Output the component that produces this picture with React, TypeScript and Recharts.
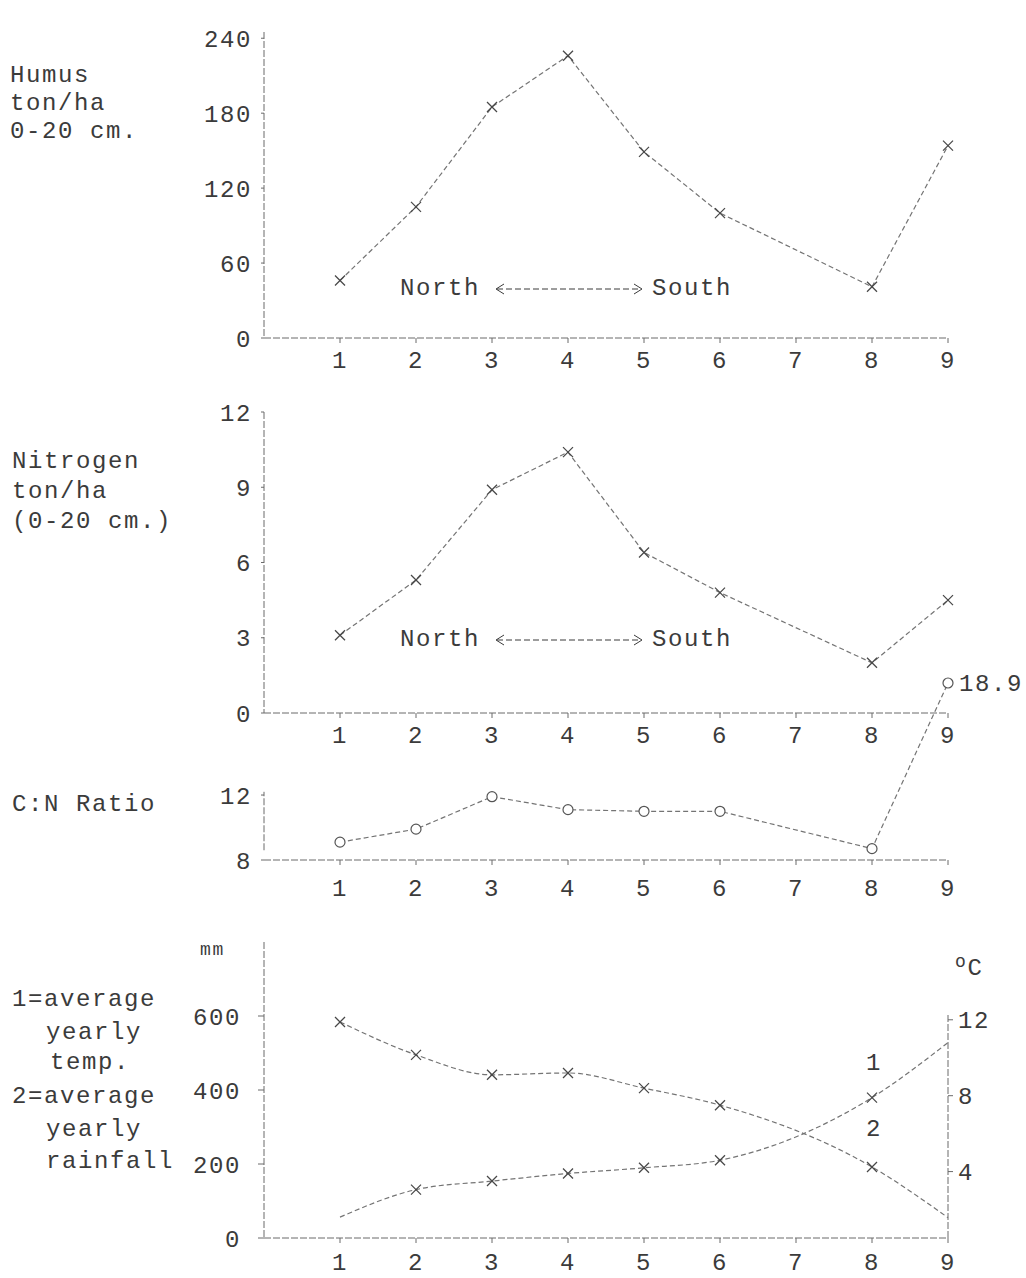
import { LineChart, Line, XAxis, YAxis, ReferenceLine } from "recharts"

// stations along the transect, north -> south (no samples at 7)
const stations = [1, 2, 3, 4, 5, 6, 8, 9]
const stationTicks = [1, 2, 3, 4, 5, 6, 7, 8, 9]

const humus = [46, 105, 185, 226, 149, 100, 41, 154]
const nitrogen = [3.1, 5.3, 8.9, 10.4, 6.4, 4.8, 2.0, 4.5]
const cnRatio = [9.1, 9.9, 11.9, 11.1, 11.0, 11.0, 8.7, 18.9]
const rainfall = [584, 495, 441, 446, 405, 359, 192, 55]
const temperature = [1.6, 3.05, 3.5, 3.9, 4.2, 4.6, 7.9, 10.8]

const humusTicks = [0, 60, 120, 180, 240]
const nitrogenTicks = [0, 3, 6, 9, 12]
const cnTicks = [8, 12]
const rainTicks = [0, 200, 400, 600]
const tempTicks = [4, 8, 12]

const rows = stations.map((s, i) => ({
  station: s,
  humus: humus[i],
  nitrogen: nitrogen[i],
  cn: cnRatio[i],
  rain: rainfall[i],
  temp: temperature[i],
}))

const INK = "#3b3b3b"
const AXIS = "#6a6a6a"
const SERIES = "#747474"
const FONT = "'Liberation Mono', 'DejaVu Sans Mono', monospace"
const X_AXIS_H = 56

const tick = { fontSize: 24, fill: INK, fontFamily: FONT }
const axisLine = { stroke: AXIS, strokeDasharray: "7 2" }

function Cross(props: any) {
  const { cx, cy, payload, skip } = props
  if (cx == null || cy == null) return null
  if (skip && skip.includes(payload.station)) return null
  const r = 5
  return (
    <g key={`x-${payload.station}`} stroke="#474747" strokeWidth={1.3}>
      <line x1={cx - r} y1={cy - r} x2={cx + r} y2={cy + r} />
      <line x1={cx - r} y1={cy + r} x2={cx + r} y2={cy - r} />
    </g>
  )
}

function Ring(props: any) {
  const { cx, cy, payload } = props
  if (cx == null || cy == null) return null
  return <circle key={`o-${payload.station}`} cx={cx} cy={cy} r={5} fill="#fff" stroke="#555" strokeWidth={1.2} />
}

function Text({ x, y, children }: any) {
  return (
    <div style={{ position: "absolute", left: x, top: y - 12, lineHeight: "24px", whiteSpace: "pre" }}>
      {children}
    </div>
  )
}

function Arrow() {
  return (
    <svg width={150} height={12} style={{ margin: "0 8px 0 14px" }}>
      <line x1={3} y1={6} x2={147} y2={6} stroke={INK} strokeDasharray="6 3" />
      <polyline points="10,1 2,6 10,11" fill="none" stroke={INK} />
      <polyline points="140,1 148,6 140,11" fill="none" stroke={INK} />
    </svg>
  )
}

function NorthSouth({ y }: { y: number }) {
  return (
    <div style={{ position: "absolute", left: 400, top: y - 12, lineHeight: "24px", display: "flex", alignItems: "center" }}>
      <span>North</span>
      <Arrow />
      <span>South</span>
    </div>
  )
}

function xAxis(tickMargin: number) {
  return (
    <XAxis
      dataKey="station"
      type="number"
      domain={[0, 9]}
      ticks={stationTicks}
      interval={0}
      height={X_AXIS_H}
      tickSize={5}
      tickMargin={tickMargin}
      tick={tick}
      axisLine={axisLine}
      tickLine={{ stroke: AXIS }}
    />
  )
}

const lineStyle = { stroke: SERIES, strokeWidth: 1.2, strokeDasharray: "5 3" }

export default function App() {
  return (
    <div
      style={{
        position: "absolute",
        left: 0,
        top: 0,
        width: 1026,
        height: 1278,
        background: "#fff",
        fontFamily: FONT,
        fontSize: 24,
        letterSpacing: "1.6px",
        color: INK,
        overflow: "hidden",
      }}
    >
      {/* humus */}
      <div style={{ position: "absolute", left: 0, top: 0 }}>
        <LineChart width={1026} height={338 + X_AXIS_H} data={rows} margin={{ top: 32, right: 78, bottom: 0, left: 204 }}>
          {xAxis(8)}
          <YAxis domain={[0, 245]} ticks={humusTicks} width={60} tickSize={3} tickMargin={9} tick={tick} axisLine={axisLine} tickLine={{ stroke: AXIS }} />
          <Line type="linear" dataKey="humus" {...lineStyle} dot={<Cross />} isAnimationActive={false} />
        </LineChart>
      </div>

      {/* nitrogen */}
      <div style={{ position: "absolute", left: 0, top: 390 }}>
        <LineChart width={1026} height={323 + X_AXIS_H} data={rows} margin={{ top: 22, right: 78, bottom: 0, left: 204 }}>
          {xAxis(8)}
          <YAxis domain={[0, 12]} ticks={nitrogenTicks} width={60} tickSize={3} tickMargin={9} tick={tick} axisLine={axisLine} tickLine={{ stroke: AXIS }} />
          <Line type="linear" dataKey="nitrogen" {...lineStyle} dot={<Cross />} isAnimationActive={false} />
        </LineChart>
      </div>

      {/* C:N ratio, last point runs off the scale */}
      <div style={{ position: "absolute", left: 0, top: 660 }}>
        <LineChart width={1026} height={200 + X_AXIS_H} data={rows} margin={{ top: 23, right: 78, bottom: 0, left: 204 }}>
          {xAxis(14)}
          <YAxis domain={[8, 18.9]} ticks={cnTicks} width={60} tickSize={3} tickMargin={9} tick={tick} axisLine={false} tickLine={{ stroke: AXIS }} />
          <ReferenceLine segment={[{ x: 0, y: 8.6 }, { x: 0, y: 12.2 }]} stroke={AXIS} strokeDasharray="7 2" />
          <Line
            type="linear"
            dataKey="cn"
            {...lineStyle}
            dot={<Ring />}
            isAnimationActive={false}
            label={(p: any) =>
              p.index === cnRatio.length - 1 ? (
                <text key="cn-label" x={p.x + 11} y={p.y} dy="0.35em" fontSize={24} fill={INK} fontFamily={FONT}>
                  {p.value}
                </text>
              ) : null
            }
          />
        </LineChart>
      </div>

      {/* rainfall and temperature */}
      <div style={{ position: "absolute", left: 0, top: 910 }}>
        <LineChart width={1026} height={328 + X_AXIS_H} data={rows} margin={{ top: 32, right: 8, bottom: 0, left: 204 }}>
          {xAxis(10)}
          <YAxis yAxisId="mm" domain={[0, 800]} ticks={rainTicks} width={60} tickSize={6} tickMargin={17} tick={tick} axisLine={axisLine} tickLine={{ stroke: AXIS }} />
          <YAxis yAxisId="c" orientation="right" domain={[0.5, 16.1]} ticks={tempTicks} width={70} tickSize={5} tickMargin={5} tick={{ ...tick, textAnchor: "start" }} axisLine={false} tickLine={{ stroke: AXIS }} />
          <ReferenceLine yAxisId="c" segment={[{ x: 9, y: 0.5 }, { x: 9, y: 12.3 }]} stroke={AXIS} strokeDasharray="7 2" />
          <Line yAxisId="mm" type="monotone" dataKey="rain" {...lineStyle} dot={<Cross skip={[9]} />} isAnimationActive={false} />
          <Line yAxisId="c" type="monotone" dataKey="temp" {...lineStyle} dot={<Cross skip={[1, 9]} />} isAnimationActive={false} />
        </LineChart>
      </div>

      <Text x={10} y={76}>Humus</Text>
      <Text x={10} y={104}>ton/ha</Text>
      <Text x={10} y={132}>0-20 cm.</Text>
      <NorthSouth y={289} />

      <Text x={12} y={462}>Nitrogen</Text>
      <Text x={12} y={492}>ton/ha</Text>
      <Text x={12} y={522}>(0-20 cm.)</Text>
      <NorthSouth y={640} />

      <Text x={12} y={805}>C:N Ratio</Text>

      <Text x={12} y={1000}>1=average</Text>
      <Text x={46} y={1033}>yearly</Text>
      <Text x={50} y={1063}>temp.</Text>
      <Text x={12} y={1097}>2=average</Text>
      <Text x={46} y={1130}>yearly</Text>
      <Text x={46} y={1162}>rainfall</Text>

      <div style={{ position: "absolute", left: 200, top: 940, fontSize: 18, lineHeight: "20px" }}>mm</div>
      <div style={{ position: "absolute", left: 955, top: 950, lineHeight: "24px" }}>
        <span style={{ fontSize: 18, verticalAlign: "8px" }}>o</span>C
      </div>
      <Text x={866} y={1064}>1</Text>
      <Text x={866} y={1130}>2</Text>
    </div>
  )
}
